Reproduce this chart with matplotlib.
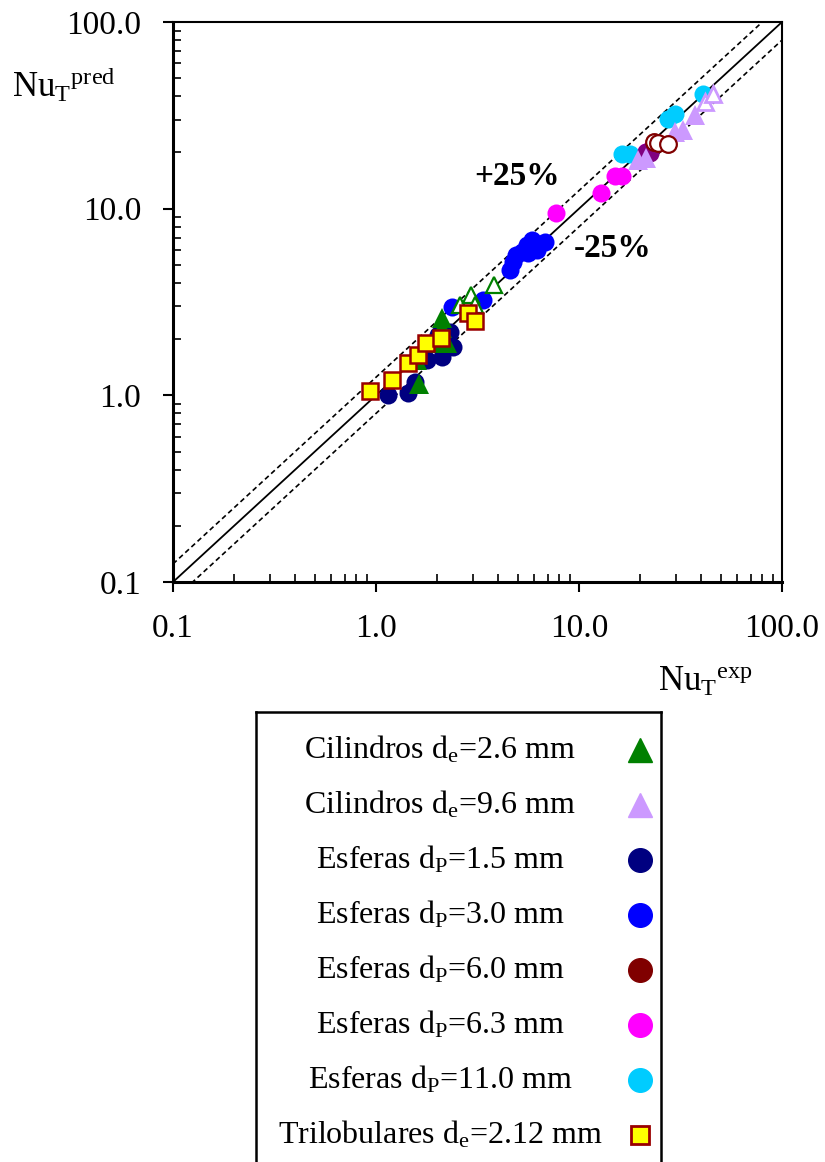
import matplotlib
matplotlib.use("Agg")
import matplotlib.pyplot as plt
from matplotlib.ticker import FixedLocator, LogLocator, FuncFormatter, NullFormatter

plt.rcParams["font.family"] = ["Liberation Serif", "DejaVu Serif"]
plt.rcParams["mathtext.fontset"] = "custom"
plt.rcParams["mathtext.rm"] = "Liberation Serif"
plt.rcParams["mathtext.it"] = "Liberation Serif:italic"

# datos (Nu experimental vs Nu predicho)
cil26_x = [1.62, 2.11, 2.12, 2.07, 2.24, 1.59]
cil26_y = [1.15, 2.58, 2.29, 1.90, 1.91, 1.55]
cil26o_x = [2.59, 2.93, 3.07, 3.83]
cil26o_y = [3.05, 3.44, 3.05, 3.90]
cil96_x = [19.6, 21.5, 29.7, 32.6, 37.3]
cil96_y = [18.2, 18.7, 25.8, 26.4, 31.7]
cil96o_x = [41.8, 45.6]
cil96o_y = [37.4, 41.1]
esf15_x = [1.14, 1.43, 1.55, 1.78, 2.12, 2.40, 2.19, 2.03, 2.31]
esf15_y = [1.00, 1.03, 1.18, 1.55, 1.61, 1.82, 1.82, 2.10, 2.19]
esf30_x = [2.37, 3.38, 4.57, 4.75, 4.89, 5.24, 5.54, 5.87, 6.80, 6.21, 5.61]
esf30_y = [2.97, 3.24, 4.69, 5.18, 5.64, 5.88, 6.38, 6.79, 6.65, 6.00, 5.78]
esf60_x = [21.3, 22.4]
esf60_y = [20.2, 19.9]
esf60o_x = [23.4, 24.5, 27.5]
esf60o_y = [22.8, 22.5, 22.2]
esf63_x = [7.68, 12.9, 15.0, 16.2, 21.5]
esf63_y = [9.44, 12.2, 14.95, 14.95, 20.1]
esf11_x = [16.3, 17.8, 27.5, 29.7, 41.0]
esf11_y = [19.7, 19.7, 30.1, 32.1, 41.1]
tri_x = [0.93, 1.20, 1.44, 1.61, 1.76, 2.09, 2.84, 3.07]
tri_y = [1.05, 1.21, 1.49, 1.64, 1.91, 2.03, 2.76, 2.50]

linea = [0.1, 100.0]
desvio = 1.25

leyenda = [
    (r"Cilindros $\mathregular{d_e}$=2.6 mm", dict(marker="^", color="#008000", ms=17)),
    (r"Cilindros $\mathregular{d_e}$=9.6 mm", dict(marker="^", color="#CC99FF", ms=17)),
    (r"Esferas $\mathregular{d_P}$=1.5 mm", dict(marker="o", color="#000080", ms=17)),
    (r"Esferas $\mathregular{d_P}$=3.0 mm", dict(marker="o", color="#0000FF", ms=17)),
    (r"Esferas $\mathregular{d_P}$=6.0 mm", dict(marker="o", color="#800000", ms=17)),
    (r"Esferas $\mathregular{d_P}$=6.3 mm", dict(marker="o", color="#FF00FF", ms=17)),
    (r"Esferas $\mathregular{d_P}$=11.0 mm", dict(marker="o", color="#00CCFF", ms=17)),
    (r"Trilobulares $\mathregular{d_e}$=2.12 mm", dict(marker="s", color="#FFFF00", ms=13,
                                                       mec="#990000", mew=2)),
]

W, H = 825, 1162
fig = plt.figure(figsize=(W / 100, H / 100), dpi=100)
ax = fig.add_axes([173 / W, 1 - 582 / H, (782 - 173) / W, (582 - 22) / H])
ax.set_xscale("log")
ax.set_yscale("log")
ax.set_xlim(0.1, 100)
ax.set_ylim(0.1, 100)

# lineas de paridad y +-25%
ax.plot(linea, linea, color="black", lw=1.3, zorder=1)
ax.plot(linea, [v * desvio for v in linea], color="black", lw=1.2, ls=(0, (3, 2)), zorder=1)
ax.plot(linea, [v / desvio for v in linea], color="black", lw=1.2, ls=(0, (3, 2)), zorder=1)

ax.plot(esf63_x, esf63_y, "o", color="#FF00FF", ms=13, mew=0, zorder=3)
ax.plot(esf11_x, esf11_y, "o", color="#00CCFF", ms=13, mew=0, zorder=3)
ax.plot(esf60_x, esf60_y, "o", color="#800080", ms=13, mew=0, zorder=3)
ax.plot(cil96_x, cil96_y, "^", color="#CC99FF", ms=14, mew=0, zorder=4)
ax.plot(cil96o_x, cil96o_y, "^", mfc="white", mec="#CC99FF", ms=12, mew=2, zorder=4)
ax.plot(esf60o_x, esf60o_y, "o", mfc="white", mec="#800000", ms=12, mew=1.6, zorder=5)
ax.plot(esf30_x, esf30_y, "o", color="#0000FF", ms=13, mew=0, zorder=3)
ax.plot(esf15_x, esf15_y, "o", color="#000080", ms=13, mew=0, zorder=3)
ax.plot(cil26_x, cil26_y, "^", color="#008000", ms=14, mew=0, zorder=4)
ax.plot(cil26o_x, cil26o_y, "^", mfc="white", mec="#008000", ms=12, mew=1.6, zorder=4)
ax.plot(tri_x, tri_y, "s", mfc="#FFFF00", mec="#990000", ms=11, mew=1.8, zorder=6)

ax.text(4.95, 14.8, "+25%", fontsize=24, fontweight="bold", ha="center", va="center")
ax.text(14.7, 6.15, "-25%", fontsize=24, fontweight="bold", ha="center", va="center")

fmt = FuncFormatter(lambda v, p: "%.1f" % v)
for eje in (ax.xaxis, ax.yaxis):
    eje.set_major_locator(FixedLocator([0.1, 1, 10, 100]))
    eje.set_minor_locator(LogLocator(base=10, subs=range(2, 10)))
    eje.set_major_formatter(fmt)
    eje.set_minor_formatter(NullFormatter())
ax.tick_params(which="major", direction="out", length=7, width=1.5, labelsize=24, pad=16)
ax.tick_params(which="minor", direction="in", length=6, width=1.2)
for lado in ("left", "bottom"):
    ax.spines[lado].set_linewidth(2.2)
for lado in ("top", "right"):
    ax.spines[lado].set_linewidth(1.5)

fig.text(12 / W, 1 - 85 / H, r"$\mathregular{Nu_{T}{}^{pred}}$", fontsize=25, ha="left", va="center")
fig.text(705 / W, 1 - 682 / H, r"$\mathregular{Nu_{T}{}^{exp}}$", fontsize=25, ha="center", va="center")

# leyenda dibujada aparte, en pixeles
lax = fig.add_axes([256 / W, 1 - 1220 / H, (661 - 256) / W, (1220 - 712) / H])
lax.set_xlim(256, 661)
lax.set_ylim(1220, 712)
lax.set_xticks([])
lax.set_yticks([])
for s in lax.spines.values():
    s.set_linewidth(1.8)
for i, (nombre, estilo) in enumerate(leyenda):
    fila = 750 + i * 55
    lax.text(440, fila, nombre, fontsize=23, ha="center", va="center")
    lax.plot([640], [fila], ls="none", **estilo)

fig.savefig("out.png", dpi=100)
